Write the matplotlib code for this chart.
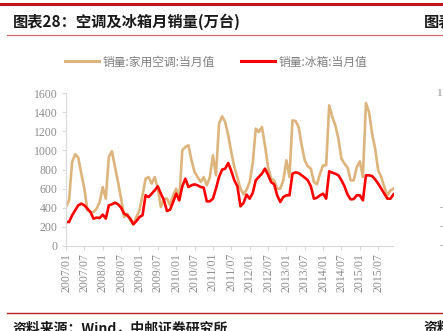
import matplotlib
matplotlib.use("Agg")
import matplotlib.pyplot as plt
from matplotlib.lines import Line2D

plt.rcParams['font.family'] = ['Noto Sans CJK SC', 'DejaVu Sans']

# monthly data, 2007/01 - 2015/12
months = [f"{y}/{m:02d}" for y in range(2007, 2016) for m in range(1, 13)]

ac_sales = [408, 478, 878, 959, 924, 756, 600, 373, 355, 355, 390, 460,
            617, 495, 930, 993, 826, 670, 495, 303, 338, 268, 227, 303,
            373, 530, 704, 721, 652, 721, 600, 408, 495, 495, 425, 530,
            600, 478, 1000, 1035, 1053, 896, 774, 721, 670, 721, 635, 721,
            948, 739, 1280, 1356, 1297, 1157, 983, 826, 715, 600, 540, 589,
            669, 861, 1227, 1192, 1245, 1053, 826, 704, 687, 600, 600, 687,
            896, 722, 1314, 1307, 1245, 1053, 896, 833, 809, 669, 645, 756,
            844, 844, 1471, 1349, 1262, 1122, 913, 861, 819, 687, 687, 826,
            885, 722, 1495, 1401, 1175, 1018, 791, 722, 617, 530, 582, 600]

fridge_sales = [251, 251, 321, 373, 425, 443, 425, 390, 355, 286, 296, 293,
                328, 286, 425, 436, 453, 436, 401, 338, 321, 286, 227, 261,
                303, 321, 530, 512, 547, 582, 624, 547, 478, 366, 380, 460,
                547, 478, 624, 704, 617, 634, 645, 634, 617, 610, 467, 467,
                495, 600, 722, 798, 809, 868, 784, 687, 624, 415, 450, 537,
                495, 554, 687, 722, 756, 809, 746, 669, 645, 530, 460, 512,
                530, 530, 756, 770, 763, 739, 715, 687, 624, 495, 505, 530,
                547, 495, 781, 767, 756, 739, 687, 624, 537, 488, 491, 530,
                530, 478, 739, 739, 732, 697, 652, 600, 547, 495, 495, 540]

series_names = ["销量:家用空调:当月值", "销量:冰箱:当月值"]
yticks = [0, 200, 400, 600, 800, 1000, 1200, 1400, 1600]

W, H = 443, 331
fig = plt.figure(figsize=(W / 100, H / 100), dpi=100)

def fx(px):
    return px / W

def fy(py):
    return 1 - py / H

# decorative header/footer lines
fig.add_artist(Line2D([0, fx(418)], [fy(3.8), fy(3.8)], color='#C0141E', lw=2.2))
fig.add_artist(Line2D([fx(420.5), 1], [fy(3.8), fy(3.8)], color='#C0141E', lw=2.2))
fig.add_artist(Line2D([fx(7), 1], [fy(35), fy(35)], color='#D9666B', lw=0.9))
fig.add_artist(Line2D([fx(7), 1], [fy(313), fy(313)], color='#B52025', lw=1.0))

fig.text(fx(13), fy(21.5), "图表28：空调及冰箱月销量(万台)", fontsize=11, fontweight='bold',
         va='center', ha='left', color='#1a1a1a')
fig.text(fx(424), fy(21.5), "图表", fontsize=11, fontweight='bold', va='center', ha='left',
         color='#1a1a1a')
fig.text(fx(13), fy(328), "资料来源：Wind，中邮证券研究所", fontsize=10, fontweight='bold',
         va='center', ha='left', color='#1a1a1a')
fig.text(fx(424), fy(328), "资料", fontsize=10, fontweight='bold', va='center', ha='left',
         color='#1a1a1a')
# fragments of neighbouring chart
fig.text(fx(437), fy(93), "1", fontsize=8, family='Liberation Serif', color='#8c8c8c',
         va='center', ha='left')
for yy in (207, 226, 245):
    fig.add_artist(Line2D([fx(440), fx(443)], [fy(yy), fy(yy)], color='#bfbfbf', lw=0.8))

ax = fig.add_axes([fx(66), fy(246), fx(393.5) - fx(66), fy(93) - fy(246)])
x = list(range(len(months)))
ax.plot(x, ac_sales, color='#DDB47C', lw=1.9, solid_joinstyle='round')
ax.plot(x, fridge_sales, color='#FF0000', lw=1.9, solid_joinstyle='round')

ax.set_xlim(0, len(months) - 1)
ax.set_ylim(0, 1600)
ax.set_yticks(yticks)
ax.set_yticklabels([str(v) for v in yticks], family='Liberation Serif', fontsize=8.5,
                   color='#8c8c8c')
tick_pos = [i for i, m in enumerate(months) if m.endswith('/01') or m.endswith('/07')]
tick_pos = [i for i in tick_pos if i <= 102]
ax.set_xticks(tick_pos)
ax.set_xticklabels([months[i] for i in tick_pos], rotation=90, family='Liberation Serif',
                   fontsize=8.5, color='#8c8c8c')
for s in ('top', 'right'):
    ax.spines[s].set_visible(False)
for s in ('left', 'bottom'):
    ax.spines[s].set_color('#d9d9d9')
    ax.spines[s].set_linewidth(0.8)
ax.tick_params(axis='both', colors='#d9d9d9', length=3, width=0.8, pad=2)
ax.tick_params(axis='y', labelcolor='#8c8c8c', pad=3)
ax.tick_params(axis='x', labelcolor='#8c8c8c', pad=2)
ax.set_facecolor('none')

handles = [Line2D([], [], color='#DDB47C', lw=2.2), Line2D([], [], color='#FF0000', lw=2.2)]
leg = fig.legend(handles, series_names, loc='center', bbox_to_anchor=(fx(216), fy(62)),
                 ncol=2, frameon=False, fontsize=8.5, handlelength=2.9, handletextpad=0.3,
                 columnspacing=2.2, labelcolor='#7f7f7f')

fig.savefig("out.png", dpi=100)
